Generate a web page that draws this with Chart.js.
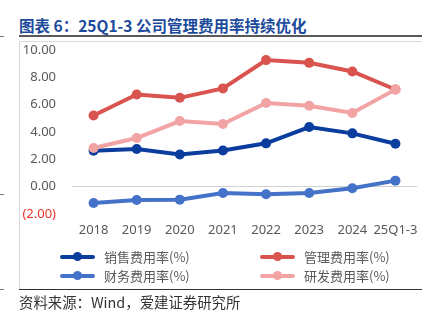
<!DOCTYPE html>
<html>
<head>
<meta charset="utf-8">
<script src="https://cdn.jsdelivr.net/npm/chart.js@4"></script>
<style>
    body { margin: 0; background: #fff; font-family: "Noto Sans", "Noto Sans CJK SC", sans-serif; }
    #wrap { position: relative; width: 444px; height: 325px; overflow: hidden; }
    #title { position: absolute; left: 19px; top: 14px; font-size: 15.5px; font-weight: bold; color: #1c4b9c; font-family: "Noto Sans CJK SC", sans-serif; white-space: nowrap; }
    .rule { position: absolute; }
    #chartBox { position: absolute; left: 0; top: 0; width: 444px; height: 325px; }
    .legend { position: absolute; left: 0; top: 0; }
    .legend-item { position: absolute; display: flex; align-items: center; font-size: 13px; color: #595959; font-family: "Noto Sans CJK SC", sans-serif; white-space: nowrap; }
    .legend-line { position: relative; width: 35px; height: 4px; border-radius: 2px; margin-right: 9px; }
    .legend-line span { position: absolute; left: 13px; top: -2.5px; width: 9px; height: 9px; border-radius: 50%; }
    #source { position: absolute; left: 19px; top: 291px; font-size: 14.4px; color: #333; font-family: "Noto Sans CJK SC", sans-serif; white-space: nowrap; }
</style>
</head>
<body>
<div id="wrap">
    <div id="title">图表 6：25Q1-3 公司管理费用率持续优化</div>
    <div class="rule" style="left:19px;top:35px;width:403px;height:2px;background:#595959"></div>
    <div class="rule" style="left:0;top:36px;width:4px;height:1px;background:#777"></div>
    <div class="rule" style="left:19px;top:41px;width:403px;height:1px;background:#d9d9d9"></div>
    <div class="rule" style="left:19px;top:41px;width:1px;height:248px;background:#d9d9d9"></div>
    <div class="rule" style="left:0;top:194px;width:4px;height:1px;background:#777"></div>
    <div class="rule" style="left:19px;top:289px;width:403px;height:1px;background:#333"></div>
    <div class="rule" style="left:0;top:289px;width:4px;height:1px;background:#777"></div>
    <div id="chartBox"><canvas id="lineChart" width="444" height="325"></canvas></div>
    <div class="legend" id="legend"></div>
    <div id="source">资料来源：Wind，爱建证券研究所</div>
</div>
<script>
const categories = ['2018', '2019', '2020', '2021', '2022', '2023', '2024', '25Q1-3'];
const salesRate = [2.63, 2.75, 2.36, 2.65, 3.17, 4.36, 3.90, 3.14];
const adminRate = [5.21, 6.75, 6.50, 7.19, 9.26, 9.06, 8.43, 7.11];
const financeRate = [-1.19, -0.97, -0.95, -0.46, -0.56, -0.46, -0.12, 0.44];
const rdRate = [2.83, 3.56, 4.80, 4.58, 6.12, 5.92, 5.39, 7.11];
const yTicks = [-2, 0, 2, 4, 6, 8, 10];

const series = [
    { label: '销售费用率(%)', data: salesRate, color: '#0b3d9e' },
    { label: '管理费用率(%)', data: adminRate, color: '#d9534f' },
    { label: '财务费用率(%)', data: financeRate, color: '#4472c8' },
    { label: '研发费用率(%)', data: rdRate, color: '#f2a4a4' }
];

function fmt(v) {
    const s = Math.abs(v).toFixed(2);
    return v < 0 ? '(' + s + ')' : s;
}

const ctx = document.getElementById('lineChart').getContext('2d');
const lineChart = new Chart(ctx, {
    type: 'line',
    data: {
        labels: categories,
        datasets: [series[3], series[2], series[0], series[1]].map(s => ({
            label: s.label,
            data: s.data,
            borderColor: s.color,
            backgroundColor: s.color,
            pointBackgroundColor: s.color,
            borderWidth: 4,
            pointRadius: 5,
            pointBorderWidth: 0,
            tension: 0,
            fill: false
        }))
    },
    options: {
        responsive: false,
        animation: false,
        layout: { padding: { left: 0, top: 50, right: 27, bottom: 81 } },
        plugins: { legend: { display: false }, tooltip: { enabled: false } },
        scales: {
            x: {
                offset: true,
                grid: { display: false, drawTicks: false },
                border: { display: false },
                ticks: { color: '#595959', font: { size: 13, family: 'Noto Sans' }, padding: 8, maxRotation: 0, autoSkip: false },
                afterFit: s => { s.height = 30; }
            },
            y: {
                min: -2,
                max: 10,
                afterBuildTicks: s => { s.ticks = yTicks.map(v => ({ value: v })); },
                grid: {
                    drawTicks: false,
                    color: c => c.tick && c.tick.value === 0 ? '#d0d0d0' : 'rgba(0,0,0,0)',
                    lineWidth: 1
                },
                border: { display: false },
                ticks: {
                    padding: 16,
                    font: { size: 13, family: 'Noto Sans' },
                    color: c => c.tick.value < 0 ? '#e8322a' : '#595959',
                    callback: v => fmt(v)
                },
                afterFit: s => { s.width = 72; }
            }
        }
    }
});

// legend built from the series
const legendPos = [[60, 247], [260, 247], [60, 266], [260, 266]];
document.getElementById('legend').innerHTML = series.map((s, i) => `
    <div class="legend-item" style="left:${legendPos[i][0]}px;top:${legendPos[i][1]}px">
        <div class="legend-line" style="background:${s.color}"><span style="background:${s.color}"></span></div>
        <span>${s.label}</span>
    </div>
`).join('');
</script>
</body>
</html>
